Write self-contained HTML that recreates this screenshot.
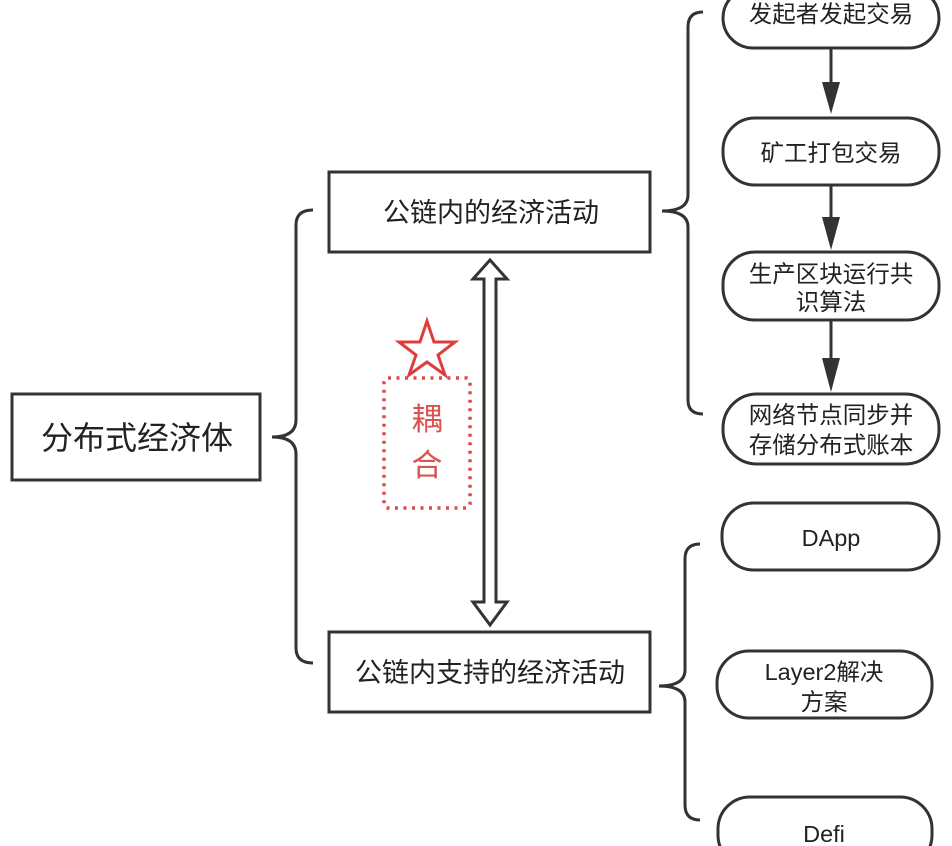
<!DOCTYPE html>
<html><head><meta charset="utf-8"><style>
html,body{margin:0;padding:0;background:#fff;}
svg{display:block}
text{font-family:"Liberation Sans","Noto Sans CJK SC",sans-serif;fill:#222;}
</style></head><body>
<svg width="952" height="846" viewBox="0 0 952 846" xmlns="http://www.w3.org/2000/svg">
<g fill="#fff" stroke="#333" stroke-width="3">
<rect x="12" y="394" width="248" height="86"/>
<rect x="329" y="172" width="321" height="80"/>
<rect x="329" y="632" width="321" height="80"/>
<rect x="723" y="-12" width="216" height="60" rx="30"/>
<rect x="723" y="118" width="216" height="67" rx="32"/>
<rect x="723" y="252" width="216" height="68" rx="32"/>
<rect x="723" y="394" width="216" height="70" rx="34"/>
<rect x="722" y="503" width="217" height="67" rx="32"/>
<rect x="717" y="651" width="215" height="67" rx="32"/>
<rect x="718" y="797" width="214" height="70" rx="32"/>
</g>
<g fill="none" stroke="#333" stroke-width="3">
<path d="M313 210 Q296 210 296 225 L296 420 Q296 437 272 437 Q296 437 296 454 L296 648 Q296 663 313 663"/>
<path d="M703 12 Q688 12 688 27 L688 195 Q688 211 662 211 Q688 211 688 227 L688 400 Q688 414 703 414"/>
<path d="M700 544 Q685 544 685 559 L685 670 Q685 686 659 686 Q685 686 685 702 L685 805 Q685 820 700 820"/>
<line x1="831" y1="48" x2="831" y2="85"/>
<line x1="831" y1="185" x2="831" y2="220"/>
<line x1="831" y1="320" x2="831" y2="362"/>
</g>
<g fill="#333">
<polygon points="822,82 840,82 831,114"/>
<polygon points="822,217 840,217 831,250"/>
<polygon points="822,358 840,358 831,392"/>
</g>
<path d="M484 279 L473 279 L490 260 L507 279 L496 279 L496 602 L507 602 L490 625 L473 602 L484 602 Z" fill="#fff" stroke="#333" stroke-width="3" stroke-linejoin="miter"/>
<polygon points="427,321 434,342 455,342 438,355 445,375 427,362 409,375 416,355 399,342 420,342" fill="none" stroke="#e03c3c" stroke-width="3"/>
<rect x="384" y="378" width="86" height="130" rx="4" fill="none" stroke="#e04848" stroke-width="3.5" stroke-dasharray="3 5.5"/>
<text x="427" y="430" font-size="31" text-anchor="middle" style="fill:#d9534f">耦</text>
<text x="427" y="476" font-size="31" text-anchor="middle" style="fill:#d9534f">合</text>
<text x="137" y="449" font-size="32" text-anchor="middle">分布式经济体</text>
<g font-size="27" text-anchor="middle">
<text x="491" y="222">公链内的经济活动</text>
<text x="490" y="682">公链内支持的经济活动</text>
</g>
<g font-size="23.5" text-anchor="middle">
<text x="831" y="22">发起者发起交易</text>
<text x="831" y="161">矿工打包交易</text>
<text x="831" y="282">生产区块运行共</text>
<text x="831" y="310">识算法</text>
<text x="831" y="423">网络节点同步并</text>
<text x="831" y="453">存储分布式账本</text>
<text x="831" y="546">DApp</text>
<text x="824" y="680">Layer2解决</text>
<text x="824" y="710">方案</text>
<text x="824" y="842">Defi</text>
</g>
</svg>
</body></html>
